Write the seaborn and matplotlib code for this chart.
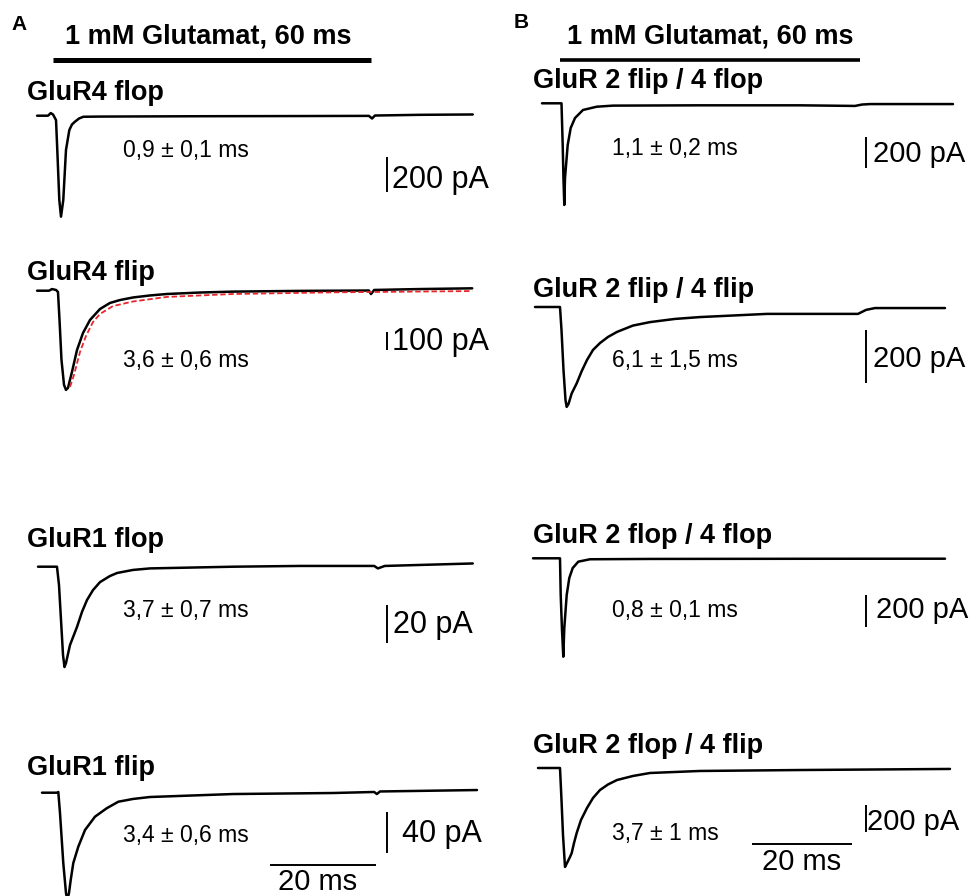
import numpy as np
import pandas as pd
import seaborn as sns
import matplotlib.pyplot as plt

sns.set_theme(style='white')
plt.rcParams['font.family'] = ['Liberation Sans', 'DejaVu Sans']

# traces: time in ms (0 = glutamate on), current in pA
# panel A
glur4_flop_t = [-3.0, -0.94, -0.43, 0.0, 0.57, 0.81, 1.19, 1.51, 1.94, 2.45, 3.08, 3.58, 4.15, 4.91, 5.72,
                8.87, 27.7, 46.6, 59.6, 60.2, 60.75, 69.2, 79.2]
glur4_flop_pa = [0, 0, 15, 7, -25, -196, -482, -577, -482, -196, -82, -50, -34, -16, -6,
                 -5, -3, -2, -1, -16, 1, 5, 7]

glur4_flip_t = [-3.0, -0.75, -0.19, 0.57, 0.94, 1.23, 1.6, 2.08, 2.45, 2.83, 3.58, 4.53, 5.66, 6.98, 8.87,
                10.75, 12.64, 15.1, 18.3, 21.5, 27.7, 34.0, 46.6, 59.6, 60.0, 60.6, 69.2, 79.1]
glur4_flip_pa = [0, 0, 9, 4, -7, -160, -378, -515, -542, -531, -444, -324, -231, -160, -100,
                 -67, -51, -37, -26, -18, -10, -5, -1, 1, -18, 4, 9, 13]
glur4_flip_fit_t = [3.21, 3.96, 5.09, 6.23, 7.55, 8.87, 11.32, 15.09, 21.5, 34.0, 52.8, 79.1]
glur4_flip_fit_pa = [-526, -460, -335, -247, -171, -127, -84, -59, -34, -18, -9, -2]

glur1_flop_t = [-2.83, 0.75, 1.13, 1.51, 1.89, 2.17, 2.45, 3.21, 4.53, 5.47, 6.42, 7.55, 8.87, 10.75,
                12.1, 15.1, 18.3, 34.0, 46.6, 60.6, 61.3, 62.6, 79.2]
glur1_flop_pa = [0, 0, -9.6, -28, -46.5, -52.8, -50.7, -41.2, -31.7, -23.8, -17.5, -12.3, -8.1, -4.9,
                 -3.3, -1.7, -0.9, 0, 0.4, 0.4, -0.9, 0.4, 1.7]

glur1_flip_t = [-2.08, 0.75, 1.0, 1.32, 1.94, 2.45, 2.7, 3.02, 3.34, 3.83, 4.77, 6.04, 7.92, 10.13, 12.32,
                15.1, 18.3, 34.0, 52.8, 60.6, 61.1, 61.7, 80.0]
glur1_flip_pa = [0, 0, 0.7, -19.8, -68.6, -97.8, -104.7, -97.8, -85.2, -68.6, -52.7, -36.4, -23.4, -15.2, -8.8,
                 -6.1, -4.2, -1.3, -0.3, 0.7, -1.3, 1.2, 2.6]

# panel B
g2flip_4flop_t = [-3.6, 0.3, 0.54, 0.7, 0.86, 1.0, 1.54, 2.14, 3.0, 4.6, 7.34, 10.6, 28.0, 48.0, 59.0,
                  60.4, 62.0, 78.6]
g2flip_4flop_pa = [0, 0, -269, -495, -656, -482, -269, -159, -95, -43, -22, -15, -13, -13, -17,
                   -8, -5, -5]

g2flip_4flip_t = [-5.0, 0.0, 0.3, 0.7, 1.1, 1.34, 1.7, 2.34, 3.34, 4.34, 5.4, 6.6, 8.0, 9.6, 11.4,
                  14.6, 18.0, 23.0, 28.0, 41.4, 59.6, 61.2, 63.0, 77.0]
g2flip_4flip_pa = [0, 0, -87, -238, -351, -377, -366, -326, -288, -242, -200, -162, -136, -113, -94,
                   -70, -57, -45, -38, -26, -26, -11, -4, -4]

g2flop_4flop_t = [-5.4, 0.0, 0.14, 0.4, 0.66, 0.86, 1.34, 1.86, 2.54, 3.66, 6.0, 18.0, 48.0, 77.0]
g2flop_4flop_pa = [0, 0, -229, -448, -615, -436, -229, -123, -61, -21, -6, -4, -3, -2.5]

g2flop_4flip_t = [-4.4, 0.0, 0.3, 0.6, 1.0, 1.4, 2.0, 2.34, 2.8, 3.34, 4.2, 5.4, 6.6, 8.0, 9.6,
                  11.4, 14.6, 18.0, 28.0, 48.0, 78.0]
g2flop_4flip_pa = [0, 0, -237, -496, -733, -704, -659, -630, -556, -481, -385, -296, -222, -163, -122,
                   -89, -59, -37, -22, -15, -7]

titles_a = ['GluR4 flop', 'GluR4 flip', 'GluR1 flop', 'GluR1 flip']
titles_b = ['GluR 2 flip / 4 flop', 'GluR 2 flip / 4 flip', 'GluR 2 flop / 4 flop', 'GluR 2 flop / 4 flip']
taus_a = ['0,9 ± 0,1 ms', '3,6 ± 0,6 ms', '3,7 ± 0,7 ms', '3,4 ± 0,6 ms']
taus_b = ['1,1 ± 0,2 ms', '6,1 ± 1,5 ms', '0,8 ± 0,1 ms', '3,7 ± 1 ms']
bars_pa_a = [200, 100, 20, 40]
bars_pa_b = [200, 200, 200, 200]
stim_label = '1 mM Glutamat, 60 ms'
stim_ms = 60
time_bar_ms = 20

traces_a = [(glur4_flop_t, glur4_flop_pa), (glur4_flip_t, glur4_flip_pa),
            (glur1_flop_t, glur1_flop_pa), (glur1_flip_t, glur1_flip_pa)]
traces_b = [(g2flip_4flop_t, g2flip_4flop_pa), (g2flip_4flip_t, g2flip_4flip_pa),
            (g2flop_4flop_t, g2flop_4flop_pa), (g2flop_4flip_t, g2flop_4flip_pa)]

# ---- layout (pixels of the 971x896 picture) ----
W, H = 971, 896
fig = plt.figure(figsize=(W / 100, H / 100), dpi=100)

# panel: x pixel of t=0, px per ms, scale-bar time, pA label size
panel_a = dict(x0=53, kx=5.3, sb_t=63.0, lab_size=22, tb_size=21)
panel_b = dict(x0=560, kx=5.0, sb_t=61.2, lab_size=21, tb_size=21)

# per row: baseline pixel row, px per pA, top of scale bar (pA), title y, tau y, label y, label x
rows_a = [dict(yb=115.7, ky=0.175, sb_top=-236, ty=100, tauy=157, laby=188, labx=392),
          dict(yb=290.7, ky=0.183, sb_top=-225, ty=280, tauy=367, laby=350, labx=392),
          dict(yb=566.7, ky=1.9, sb_top=-20, ty=547, tauy=617, laby=633, labx=393),
          dict(yb=792.7, ky=1.025, sb_top=-19, ty=775, tauy=842, laby=842, labx=402)]
rows_b = [dict(yb=103.3, ky=0.155, sb_top=-217, ty=88, tauy=155, laby=162, labx=873),
          dict(yb=307, ky=0.265, sb_top=-87, ty=297, tauy=367, laby=367, labx=873),
          dict(yb=558.3, ky=0.16, sb_top=-229, ty=543, tauy=617, laby=618, labx=876),
          dict(yb=768, ky=0.135, sb_top=-274, ty=753, tauy=840, laby=830, labx=867)]


def put(x, y, s, size, bold=False, ha='left'):
    fig.text(x / W, 1 - y / H, s, fontsize=size, fontweight='bold' if bold else 'normal',
             ha=ha, va='baseline', color='black')


def trace_axes(x0, kx, yb, ky, vlim, tlim=(-6, 82)):
    left = x0 + kx * tlim[0]
    right = x0 + kx * tlim[1]
    top = yb - ky * vlim[1]
    bottom = yb - ky * vlim[0]
    ax = fig.add_axes([left / W, 1 - bottom / H, (right - left) / W, (bottom - top) / H])
    ax.set_xlim(tlim)
    ax.set_ylim(vlim)
    ax.set_axis_off()
    ax.patch.set_alpha(0)
    return ax


def draw_panel(panel, rows, traces, titles, taus, bars, title_x, tau_x):
    axes = []
    for row, (t, pa), title, tau, amp in zip(rows, traces, titles, taus, bars):
        lo = min(min(pa), row['sb_top'] - amp)
        hi = max(max(pa), 0)
        span = hi - lo
        ax = trace_axes(panel['x0'], panel['kx'], row['yb'], row['ky'], (lo - 0.15 * span, hi + 0.15 * span))
        df = pd.DataFrame({'t': t, 'pA': pa})
        sns.lineplot(data=df, x='t', y='pA', ax=ax, color='black', lw=1.8, estimator=None, sort=False,
                     solid_joinstyle='round', solid_capstyle='round')
        ax.plot([panel['sb_t'], panel['sb_t']], [row['sb_top'], row['sb_top'] - amp],
                color='black', lw=1.4, solid_capstyle='butt')
        put(title_x, row['ty'], title, 19.5, bold=True)
        put(tau_x, row['tauy'], tau, 16.5)
        put(row['labx'], row['laby'], f'{amp} pA', panel['lab_size'])
        axes.append(ax)
    return axes


axes_a = draw_panel(panel_a, rows_a, traces_a, titles_a, taus_a, bars_pa_a, 27, 123)
axes_b = draw_panel(panel_b, rows_b, traces_b, titles_b, taus_b, bars_pa_b, 533, 612)

# fitted curve on GluR4 flip
fit = pd.DataFrame({'t': glur4_flip_fit_t, 'pA': glur4_flip_fit_pa})
sns.lineplot(data=fit, x='t', y='pA', ax=axes_a[1], color='#e8262b', lw=1.3,
             estimator=None, sort=False)
axes_a[1].lines[-1].set_linestyle((0, (3, 1.5)))

# stimulus bars
for panel, yrow, lw in [(panel_a, 60, 3.6), (panel_b, 60, 2.6)]:
    ax = trace_axes(panel['x0'], panel['kx'], yrow, 1.0, (-10, 10))
    ax.plot([0, stim_ms], [0, 0], color='black', lw=lw, solid_capstyle='butt')
put(65, 43.5, stim_label, 19.5, bold=True)
put(567, 43.5, stim_label, 19.5, bold=True)

# 20 ms time bars
axes_a[3].plot([40.9, 40.9 + time_bar_ms], [-70.5, -70.5], color='black', lw=1.4, solid_capstyle='butt')
axes_b[3].plot([38.4, 38.4 + time_bar_ms], [-563, -563], color='black', lw=1.4, solid_capstyle='butt')
put(318, 890, f'{time_bar_ms} ms', panel_a['tb_size'], ha='center')
put(802, 870, f'{time_bar_ms} ms', panel_b['tb_size'], ha='center')

# panel letters
put(11, 30, 'A', 15, bold=True)
put(514, 28, 'B', 15, bold=True)

fig.savefig('out.png', dpi=100, facecolor='white')
